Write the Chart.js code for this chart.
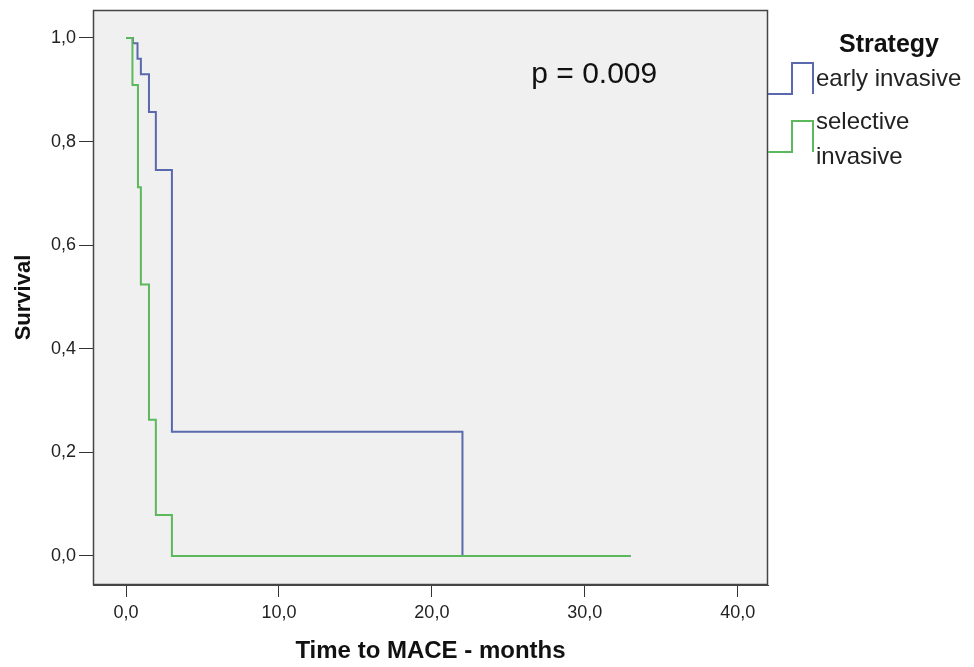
<!DOCTYPE html>
<html>
<head>
<meta charset="utf-8">
<title>Survival - Time to MACE</title>
<script src="https://cdn.jsdelivr.net/npm/chart.js@4.4.1/dist/chart.umd.min.js"></script>
<style>
  html, body { margin: 0; padding: 0; background: #ffffff; }
  #wrap { width: 974px; height: 667px; }
</style>
</head>
<body>
<div id="wrap"><canvas id="kmChart" width="974" height="667"></canvas></div>
<script>
// Kaplan-Meier steps (time in months, cumulative survival)
const earlyTimes = [0, 0.45, 0.75, 0.97, 1.5, 1.95, 3.0, 22.0, 33.0];
const earlySurvival = [1.0, 0.99, 0.96, 0.93, 0.857, 0.745, 0.24, 0.0, 0.0];

const selectiveTimes = [0, 0.42, 0.78, 0.97, 1.5, 1.95, 3.0, 33.0];
const selectiveSurvival = [1.0, 0.909, 0.712, 0.524, 0.263, 0.079, 0.0, 0.0];

const xTicks = [0, 10, 20, 30, 40];
const yTicks = [0, 0.2, 0.4, 0.6, 0.8, 1.0];

const groupNames = ['early invasive', 'selective invasive'];
const groupColors = ['#5a68ad', '#5cb85c'];
const pValueText = 'p = 0.009';

function toPoints(times, values) {
    return times.map((t, i) => ({ x: t, y: values[i] }));
}

function commaLabel(value) {
    return value.toFixed(1).replace('.', ',');
}

// grey plot panel and frame like the SPSS output
const panelPlugin = {
    id: 'panel',
    beforeDatasetsDraw(chart) {
        const { ctx, chartArea: a } = chart;
        ctx.save();
        ctx.fillStyle = '#f0f0f0';
        ctx.fillRect(a.left, a.top, a.right - a.left, a.bottom - a.top);
        ctx.restore();
    },
    afterDraw(chart) {
        const { ctx, chartArea: a } = chart;
        ctx.save();
        ctx.strokeStyle = '#444444';
        ctx.lineWidth = 1.5;
        ctx.strokeRect(a.left + 0.5, a.top + 0.5, a.right - a.left - 1, a.bottom - a.top - 1);
        ctx.restore();
    }
};

// p value annotation and the step-shaped legend on the right
const notesPlugin = {
    id: 'notes',
    afterDraw(chart) {
        const { ctx, chartArea: a, scales } = chart;
        ctx.save();
        ctx.fillStyle = '#111111';
        ctx.font = '30px "Liberation Sans", Arial, sans-serif';
        ctx.textBaseline = 'alphabetic';
        ctx.textAlign = 'left';
        ctx.fillText(pValueText, scales.x.getPixelForValue(26.5), scales.y.getPixelForValue(0.913));

        ctx.font = 'bold 25px "Liberation Sans", Arial, sans-serif';
        ctx.textAlign = 'center';
        ctx.fillText('Strategy', 889, 52);

        ctx.font = '24px "Liberation Sans", Arial, sans-serif';
        ctx.textAlign = 'left';
        ctx.fillStyle = '#222222';
        const rows = [
            { base: 94, lines: ['early invasive'], first: 86 },
            { base: 152, lines: ['selective', 'invasive'], first: 129 }
        ];
        rows.forEach((row, i) => {
            ctx.strokeStyle = groupColors[i];
            ctx.lineWidth = 2;
            ctx.beginPath();
            ctx.moveTo(a.right, row.base);
            ctx.lineTo(a.right + 24, row.base);
            ctx.lineTo(a.right + 24, row.base - 31);
            ctx.lineTo(a.right + 45, row.base - 31);
            ctx.lineTo(a.right + 45, row.base);
            ctx.stroke();
            row.lines.forEach((txt, j) => {
                ctx.fillText(txt, a.right + 48, row.first + j * 35);
            });
        });
        ctx.restore();
    }
};

function initializeChart() {
    const ctx = document.getElementById('kmChart').getContext('2d');
    new Chart(ctx, {
        type: 'line',
        data: {
            datasets: [
                {
                    label: groupNames[0],
                    data: toPoints(earlyTimes, earlySurvival),
                    borderColor: groupColors[0],
                    borderWidth: 2,
                    stepped: 'before',
                    pointRadius: 0,
                    fill: false,
                    order: 1
                },
                {
                    label: groupNames[1],
                    data: toPoints(selectiveTimes, selectiveSurvival),
                    borderColor: groupColors[1],
                    borderWidth: 2,
                    stepped: 'before',
                    pointRadius: 0,
                    fill: false,
                    order: 0
                }
            ]
        },
        options: {
            responsive: false,
            animation: false,
            devicePixelRatio: 1,
            layout: { padding: { top: 10, right: 206, left: 0, bottom: 0 } },
            plugins: {
                legend: { display: false },
                tooltip: { enabled: false }
            },
            scales: {
                x: {
                    type: 'linear',
                    min: -2.16,
                    max: 41.98,
                    afterBuildTicks: scale => { scale.ticks = xTicks.map(v => ({ value: v })); },
                    afterFit: scale => {
                        scale.height = 82;
                        scale.paddingLeft = 0;
                        scale.paddingRight = 0;
                    },
                    ticks: {
                        callback: v => commaLabel(v),
                        color: '#222222',
                        padding: 5,
                        maxRotation: 0,
                        font: { family: '"Liberation Sans", Arial, sans-serif', size: 18 }
                    },
                    grid: { drawOnChartArea: false, drawTicks: true, tickLength: 12, color: '#333333' },
                    border: { display: true, color: '#444444' },
                    title: {
                        display: true,
                        text: 'Time to MACE - months',
                        color: '#111111',
                        padding: { top: 0, bottom: 1 },
                        font: { family: '"Liberation Sans", Arial, sans-serif', size: 24, weight: 'bold' }
                    }
                },
                y: {
                    type: 'linear',
                    min: -0.056,
                    max: 1.054,
                    afterBuildTicks: scale => { scale.ticks = yTicks.map(v => ({ value: v })); },
                    afterFit: scale => {
                        scale.width = 93;
                        scale.paddingTop = 0;
                        scale.paddingBottom = 0;
                    },
                    ticks: {
                        callback: v => commaLabel(v),
                        color: '#222222',
                        padding: 3,
                        font: { family: '"Liberation Sans", Arial, sans-serif', size: 18 }
                    },
                    grid: { drawOnChartArea: false, drawTicks: true, tickLength: 14, color: '#333333' },
                    border: { display: true, color: '#444444' },
                    title: {
                        display: true,
                        text: 'Survival',
                        color: '#111111',
                        padding: { top: 11, bottom: 0 },
                        font: { family: '"Liberation Sans", Arial, sans-serif', size: 22, weight: 'bold' }
                    }
                }
            }
        },
        plugins: [panelPlugin, notesPlugin]
    });
}

document.addEventListener('DOMContentLoaded', initializeChart);
</script>
</body>
</html>
